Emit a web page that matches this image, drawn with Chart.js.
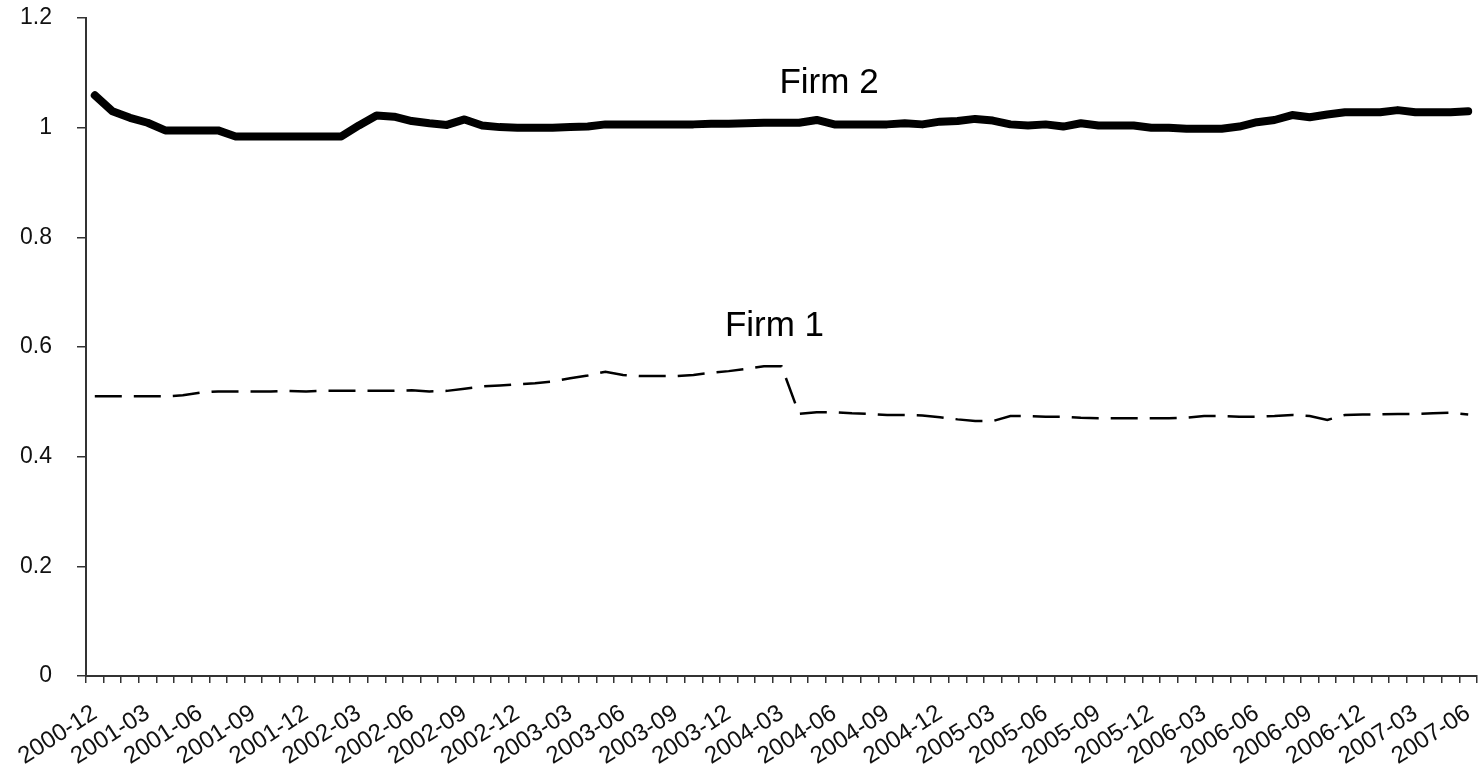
<!DOCTYPE html>
<html>
<head>
<meta charset="utf-8">
<script src="https://cdn.jsdelivr.net/npm/chart.js@4"></script>
<style>
    body { margin: 0; background: #fff; overflow: hidden; }
    #wrap { width: 1481px; height: 772px; }
</style>
</head>
<body>
<div id="wrap"><canvas id="chart"></canvas></div>
<script>
// Month labels, 2000-12 to 2007-06
const months = [];
for (let y = 2000; y <= 2007; y++) {
    for (let m = 1; m <= 12; m++) {
        const s = y + '-' + (m < 10 ? '0' + m : m);
        if (s >= '2000-12' && s <= '2007-06') months.push(s);
    }
}

// Series values
const firm1 = [
    0.510, 0.510, 0.510, 0.510, 0.510, 0.512, 0.517, 0.519, 0.519, 0.519,
    0.519, 0.520, 0.519, 0.520, 0.520, 0.520, 0.520, 0.520, 0.521, 0.519,
    0.520, 0.524, 0.528, 0.530, 0.532, 0.534, 0.537, 0.543, 0.548, 0.555,
    0.549, 0.547, 0.547, 0.547, 0.549, 0.553, 0.556, 0.560, 0.565, 0.565,
    0.478, 0.481, 0.481, 0.479, 0.478, 0.476, 0.476, 0.475, 0.472, 0.468,
    0.465, 0.465, 0.474, 0.474, 0.473, 0.473, 0.471, 0.470, 0.470, 0.470,
    0.470, 0.470, 0.471, 0.474, 0.474, 0.473, 0.473, 0.474, 0.476, 0.474,
    0.467, 0.476, 0.477, 0.477, 0.478, 0.478, 0.479, 0.480, 0.477
];
const firm2 = [
    1.059, 1.030, 1.018, 1.009, 0.995, 0.995, 0.995, 0.995, 0.984, 0.984,
    0.984, 0.984, 0.984, 0.984, 0.984, 1.004, 1.022, 1.020, 1.012, 1.008,
    1.005, 1.015, 1.004, 1.001, 1.000, 1.000, 1.000, 1.001, 1.002, 1.006,
    1.006, 1.006, 1.006, 1.006, 1.006, 1.007, 1.007, 1.008, 1.009, 1.009,
    1.009, 1.014, 1.006, 1.006, 1.006, 1.006, 1.008, 1.006, 1.011, 1.012,
    1.016, 1.013, 1.006, 1.004, 1.006, 1.002, 1.008, 1.004, 1.004, 1.004,
    1.000, 1.000, 0.998, 0.998, 0.998, 1.002, 1.010, 1.014, 1.023, 1.019,
    1.024, 1.028, 1.028, 1.028, 1.032, 1.028, 1.028, 1.028, 1.030
];
const seriesNames = ['Firm 1', 'Firm 2'];
const yTicks = [0, 0.2, 0.4, 0.6, 0.8, 1, 1.2];

const FONT = '"Liberation Sans", Arial, sans-serif';

// Text labels next to each line, placed at (category index, value)
const seriesLabels = {
    id: 'seriesLabels',
    afterDatasetsDraw(chart) {
        const ctx = chart.ctx;
        const x = chart.scales.x;
        const y = chart.scales.y;
        ctx.save();
        ctx.font = '35px ' + FONT;
        ctx.fillStyle = '#000';
        ctx.textAlign = 'center';
        ctx.textBaseline = 'alphabetic';
        ctx.fillText(seriesNames[0], x.getPixelForValue(38.6), y.getPixelForValue(0.620));
        ctx.fillText(seriesNames[1], x.getPixelForValue(41.7), y.getPixelForValue(1.064));
        ctx.restore();
    }
};

const data = {
    labels: months,
    datasets: [{
        label: seriesNames[0],
        data: firm1,
        borderColor: '#000',
        borderWidth: 2.5,
        borderDash: [27, 12], // long dash
        pointRadius: 0,
        tension: 0
    }, {
        label: seriesNames[1],
        data: firm2,
        borderColor: '#000',
        borderWidth: 8,
        borderCapStyle: 'round',
        borderJoinStyle: 'round',
        pointRadius: 0,
        tension: 0
    }]
};

const config = {
    type: 'line',
    data: data,
    options: {
        responsive: true,
        maintainAspectRatio: false,
        devicePixelRatio: 1,
        animation: false,
        layout: { padding: { top: 18, right: 4, left: 0, bottom: 0 } },
        plugins: {
            legend: { display: false },
            tooltip: { enabled: false }
        },
        scales: {
            x: {
                offset: true,
                border: { display: true, color: '#333', width: 2 },
                grid: {
                    offset: true,
                    drawOnChartArea: false,
                    tickLength: 7,
                    color: '#333',
                    lineWidth: 1.5
                },
                ticks: {
                    autoSkip: false,
                    minRotation: 33,
                    maxRotation: 33,
                    padding: 16,
                    color: '#111',
                    font: { family: FONT, size: 24 },
                    callback: function (value, index) {
                        return index % 3 === 0 ? this.getLabelForValue(value) : '';
                    }
                },
                afterFit: function (scale) {
                    scale.height = 96;
                    scale.paddingLeft = 0;
                    scale.paddingRight = 0;
                    scale.paddingTop = 0;
                    scale.paddingBottom = 0;
                }
            },
            y: {
                min: 0,
                max: 1.2,
                border: { display: true, color: '#333', width: 2 },
                grid: {
                    drawOnChartArea: false,
                    tickLength: 9,
                    color: '#333',
                    lineWidth: 1.5
                },
                afterBuildTicks: function (scale) {
                    scale.ticks = yTicks.map(v => ({ value: v }));
                },
                ticks: {
                    padding: 25,
                    color: '#111',
                    font: { family: FONT, size: 23 },
                    callback: function (value) { return String(Math.round(value * 10) / 10); }
                },
                afterFit: function (scale) {
                    scale.width = 86;
                    scale.paddingTop = 0;
                    scale.paddingBottom = 0;
                }
            }
        }
    },
    plugins: [seriesLabels]
};

// Create and render the chart
const chart = new Chart(document.getElementById('chart'), config);
</script>
</body>
</html>
